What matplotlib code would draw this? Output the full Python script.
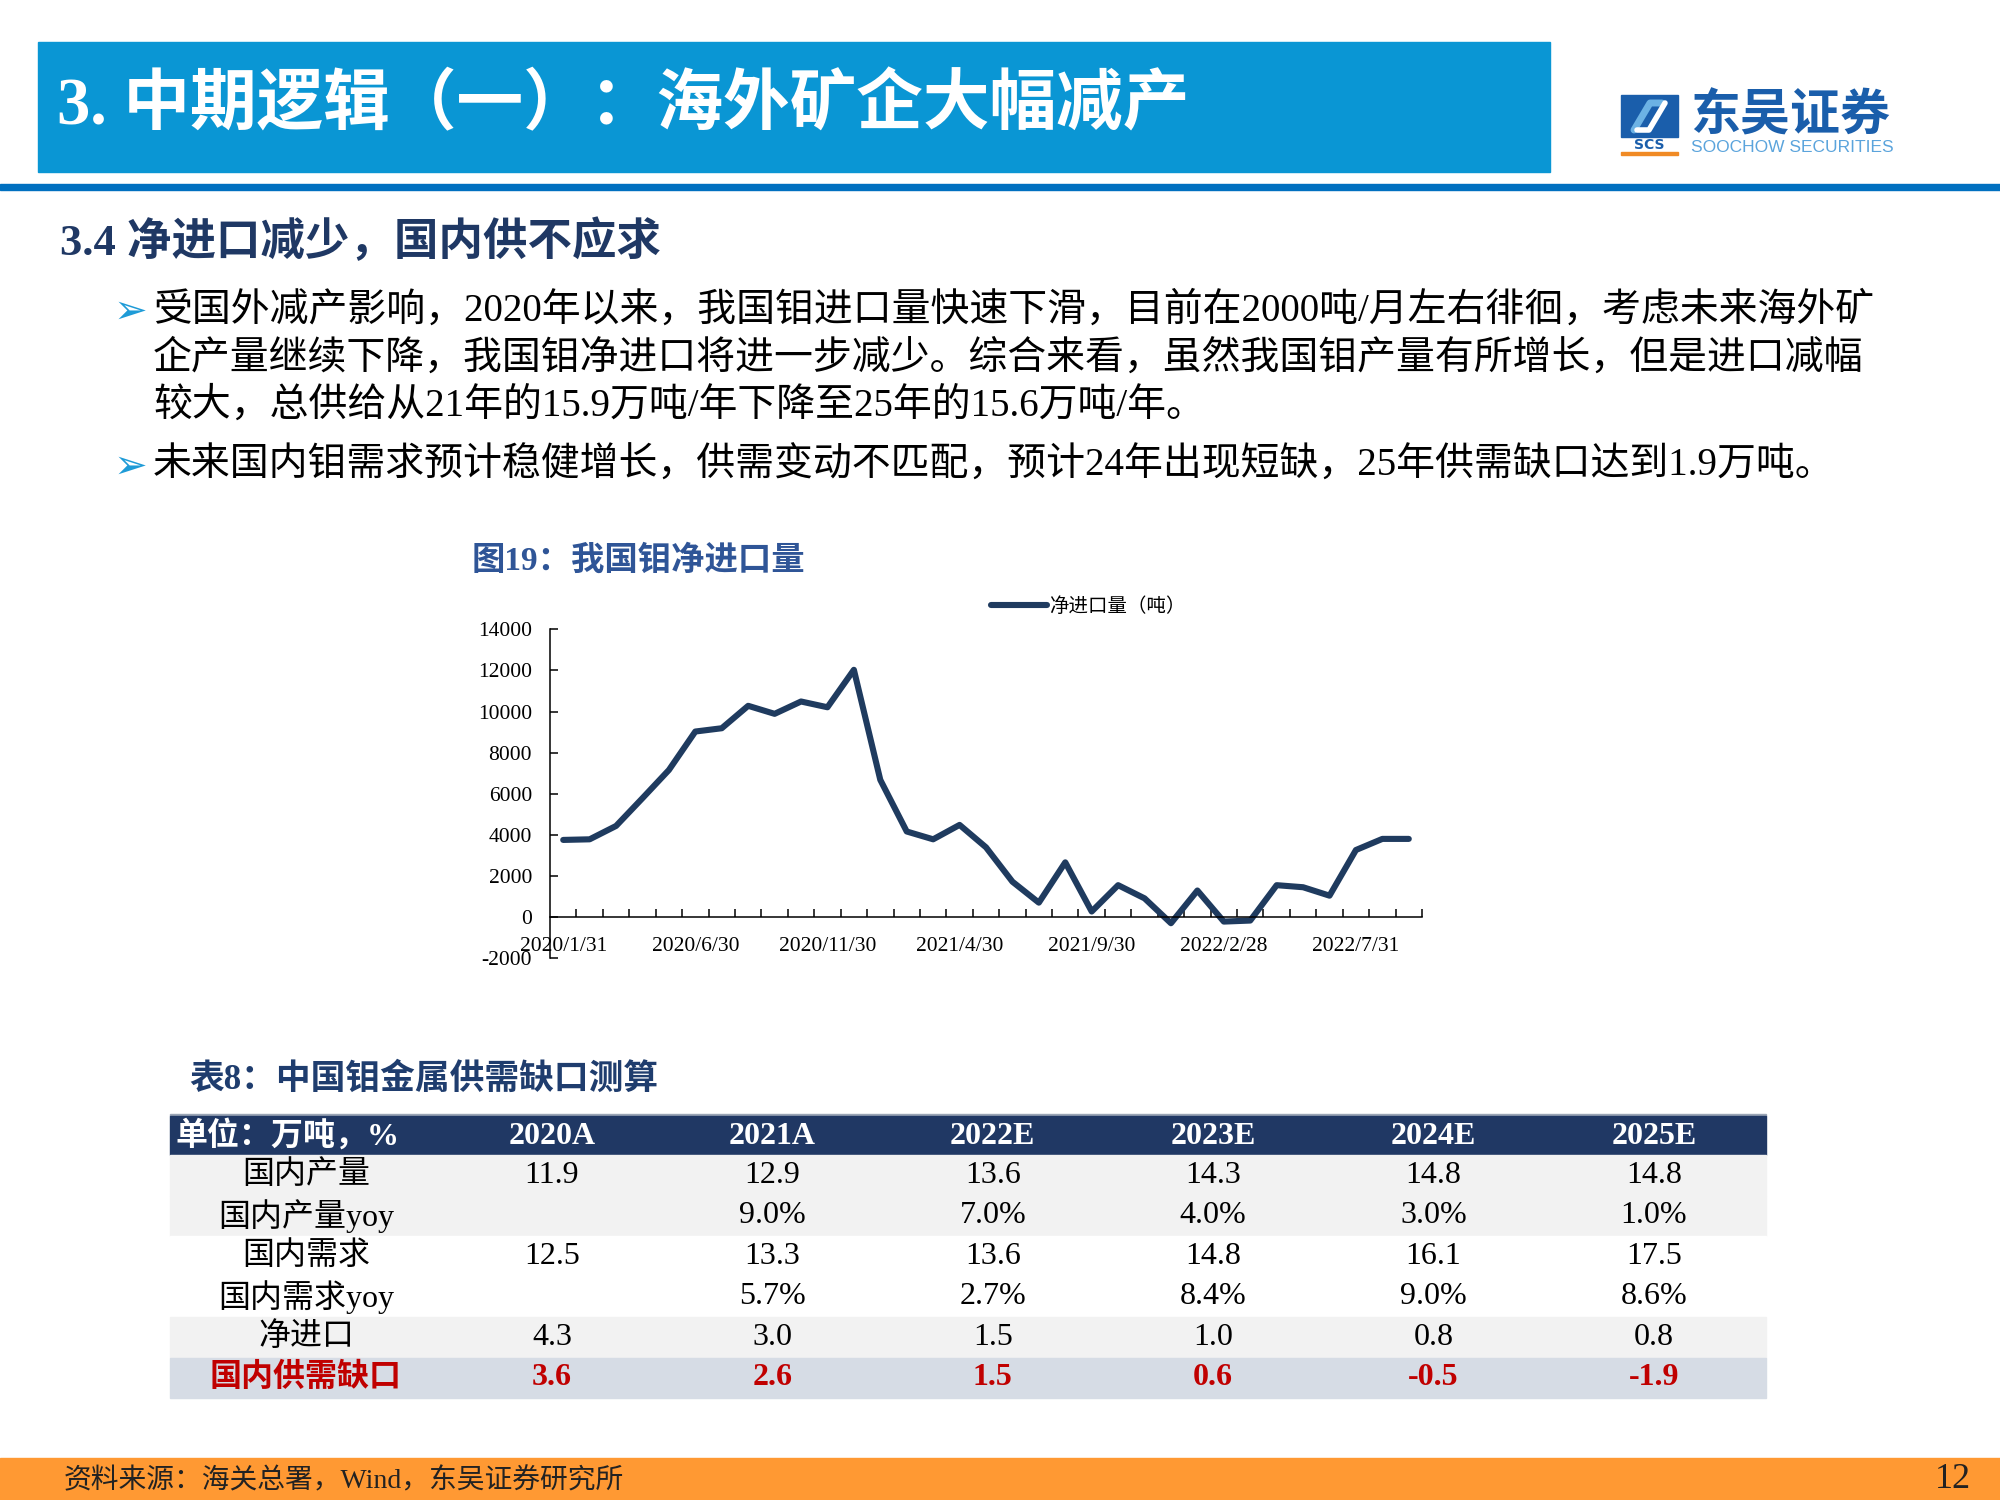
import matplotlib
matplotlib.use('Agg')
import matplotlib.pyplot as plt
from matplotlib.patches import Rectangle
import pandas as pd

SERIF = ['Liberation Serif', 'Noto Sans CJK SC', 'DejaVu Sans']
CJK = ['Noto Sans CJK SC', 'DejaVu Sans']
plt.rcParams['font.family'] = SERIF
plt.rcParams['axes.unicode_minus'] = False

# 图19 数据：我国钼净进口量（吨），2020/1 - 2022/9 月度
months = pd.date_range('2020-01-31', periods=33, freq='ME')
net_import = [3760, 3790, 4440, 5790, 7160, 9030, 9190, 10280, 9890, 10490, 10210, 12030,
              6680, 4170, 3790, 4490, 3400, 1730, 710, 2670, 280, 1560, 920, -290,
              1300, -210, -160, 1560, 1460, 1050, 3270, 3810, 3810]
tick_pos = list(range(0, 33, 5))
tick_labels = [f'{months[i].year}/{months[i].month}/{months[i].day}' for i in tick_pos]

# 表8 数据
years = ['2020A', '2021A', '2022E', '2023E', '2024E', '2025E']
row_names = ['国内产量', '国内产量yoy', '国内需求', '国内需求yoy', '净进口', '国内供需缺口']
prod = [11.9, 12.9, 13.6, 14.3, 14.8, 14.8]
prod_yoy = [None, 9.0, 7.0, 4.0, 3.0, 1.0]
demand = [12.5, 13.3, 13.6, 14.8, 16.1, 17.5]
demand_yoy = [None, 5.7, 2.7, 8.4, 9.0, 8.6]
imports = [4.3, 3.0, 1.5, 1.0, 0.8, 0.8]
gap = [3.6, 2.6, 1.5, 0.6, -0.5, -1.9]

title = '3. 中期逻辑（一）：海外矿企大幅减产'
subtitle = '3.4 净进口减少，国内供不应求'
bullets = [
    ['受国外减产影响，2020年以来，我国钼进口量快速下滑，目前在2000吨/月左右徘徊，考虑未来海外矿',
     '企产量继续下降，我国钼净进口将进一步减少。综合来看，虽然我国钼产量有所增长，但是进口减幅',
     '较大，总供给从21年的15.9万吨/年下降至25年的15.6万吨/年。'],
    ['未来国内钼需求预计稳健增长，供需变动不匹配，预计24年出现短缺，25年供需缺口达到1.9万吨。'],
]

fig = plt.figure(figsize=(20, 15), dpi=100)
bg = fig.add_axes([0, 0, 1, 1])
bg.set_xlim(0, 2000)
bg.set_ylim(1500, 0)
bg.axis('off')

# 顶部标题栏
bg.add_patch(Rectangle((38, 42), 1512, 130, color='#0A96D4'))
bg.text(57, 106, title, color='white', fontsize=48, fontweight='bold', va='center')
bg.add_patch(Rectangle((0, 184), 2000, 6, color='#0070C0'))

# logo
bg.add_patch(Rectangle((1621, 95), 57, 42, color='#1A5EAB'))
bg.plot([1634, 1650, 1662], [130, 103, 103], color='#6CB2E4', lw=5, solid_capstyle='round')
bg.plot([1637, 1649, 1665], [130, 130, 103], color='white', lw=4, solid_capstyle='round')
bg.text(1649, 145, 'SCS', color='#1A5EAB', fontsize=10, fontweight='bold',
        ha='center', va='center', family='DejaVu Sans')
bg.add_patch(Rectangle((1621, 152), 57, 3, color='#F08A24'))
bg.text(1690, 116, '东吴证券', color='#1A5EAB', fontsize=36, fontweight='bold',
        va='center', family=CJK)
bg.text(1691, 147, 'SOOCHOW SECURITIES', color='#5BA4DC', fontsize=12.5,
        va='center', family='Liberation Sans')

# 小标题与要点
bg.text(60, 242, subtitle, color='#1F3864', fontsize=32, fontweight='bold', va='center')
line_y = [[311, 359, 406], [466]]
for lines, ys in zip(bullets, line_y):
    bg.text(114, ys[0] + 1, '➢', color='#1E9BD7', fontsize=29, va='center', family='DejaVu Sans')
    for s, y in zip(lines, ys):
        bg.text(153, y, s, color='black', fontsize=28, va='center')

# 图19
bg.text(472, 561, '图19：我国钼净进口量', color='#2F5597', fontsize=24,
        fontweight='bold', va='center')
ax = fig.add_axes([550 / 2000, 1 - 958.4 / 1500, 872 / 2000, 329.1 / 1500])
ax.plot(range(len(net_import)), net_import, color='#1F3B5F', lw=4.4,
        solid_capstyle='round', label='净进口量（吨）')
ax.set_xlim(-0.5, len(net_import) - 0.5)
ax.set_ylim(-2000, 14000)
ax.spines['top'].set_visible(False)
ax.spines['right'].set_visible(False)
ax.spines['bottom'].set_position(('data', 0))
for sp in ['left', 'bottom']:
    ax.spines[sp].set_linewidth(1.1)
ax.set_yticks(range(-2000, 14001, 2000))
ax.set_xticks(tick_pos)
ax.set_xticklabels(tick_labels)
ax.set_xticks([i + 0.5 for i in range(len(net_import))], minor=True)
ax.tick_params(axis='x', which='major', length=0, pad=14, labelsize=15.5)
ax.tick_params(axis='x', which='minor', direction='in', length=6, width=1.1)
ax.tick_params(axis='y', direction='in', length=6, width=1.1, pad=13, labelsize=15.5)
ax.legend(loc='center', bbox_to_anchor=(1088 / 2000, 1 - 606 / 1500),
          bbox_transform=fig.transFigure, frameon=False,
          prop={'family': CJK, 'size': 14}, handlelength=2.9, handletextpad=0.1)

# 表8
bg.text(189, 1080, '表8：中国钼金属供需缺口测算', color='#1F3D6E', fontsize=25,
        fontweight='bold', va='center')
tx0, tx1 = 170, 1766
col_x = [552 + 220.4 * i for i in range(len(years))]
label_x = 306
bg.add_patch(Rectangle((tx0, 1114), tx1 - tx0, 2, color='#9AA5B5'))
bg.add_patch(Rectangle((tx0, 1116), tx1 - tx0, 39, color='#203864'))
bg.text(175, 1136, '单位：万吨，%', color='white', fontsize=23, fontweight='bold', va='center')
for x, yr in zip(col_x, years):
    bg.text(x, 1136, yr, color='white', fontsize=23, fontweight='bold', ha='center', va='center')

rows = [prod, prod_yoy, demand, demand_yoy, imports, gap]
is_pct = [False, True, False, True, False, False]
fills = ['#F2F2F2', '#F2F2F2', 'white', 'white', '#F2F2F2', '#D6DCE5']
row_h = 40.5
for r, (name, vals) in enumerate(zip(row_names, rows)):
    y0 = 1155 + r * row_h
    yc = y0 + row_h / 2
    bg.add_patch(Rectangle((tx0, y0), tx1 - tx0, row_h, color=fills[r]))
    last = r == len(rows) - 1
    color = '#C00000' if last else 'black'
    weight = 'bold' if last else 'normal'
    bg.text(label_x, yc, name, color=color, fontsize=23, fontweight=weight, ha='center', va='center')
    for x, v in zip(col_x, vals):
        if v is None:
            continue
        s = f'{v:.1f}%' if is_pct[r] else f'{v:.1f}'
        bg.text(x, yc, s, color=color, fontsize=23, fontweight=weight, ha='center', va='center')

# 底部
bg.add_patch(Rectangle((0, 1458), 2000, 42, color='#FF9933'))
bg.text(64, 1481, '资料来源：海关总署，Wind，东吴证券研究所', color='#222222', fontsize=20, va='center')
bg.text(1971, 1479, '12', color='#222222', fontsize=26, ha='right', va='center')

fig.savefig('out.png', dpi=100)
